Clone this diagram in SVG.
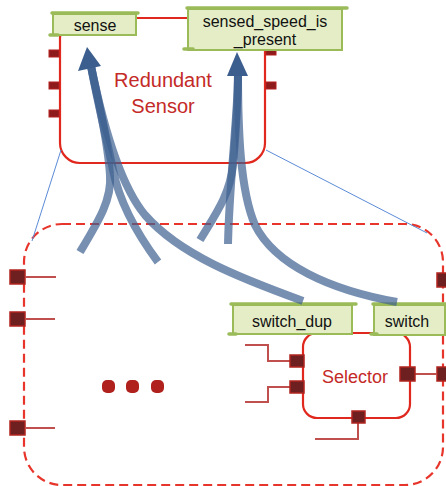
<svg xmlns="http://www.w3.org/2000/svg" width="446" height="486" viewBox="0 0 446 486">
  <style>
    .box { fill: #ffffff; stroke: #e0281e; stroke-width: 2.2; }
    .outer { fill: none; stroke: #e8352b; stroke-width: 2.2; stroke-dasharray: 9 5; }
    .title { font-family: "Liberation Sans", Arial, sans-serif; fill: #c42a27; text-anchor: middle; }
    .lbl { font-family: "Liberation Sans", Arial, sans-serif; font-size: 16px; fill: #111111; text-anchor: middle; }
    .tag { fill: #e4edc6; stroke: #9bbb59; stroke-width: 2; }
    .roll { stroke: #9bbb59; stroke-width: 3.5; stroke-linecap: round; fill: none; }
    .port { fill: #6e1f1f; stroke: #b0241f; stroke-width: 1.5; }
    .sport { fill: #8e1b1b; stroke: #b52020; stroke-width: 1; }
    .wire { fill: none; stroke: #c0504d; stroke-width: 2; }
    .guide { stroke: #5b8bd6; stroke-width: 1; fill: none; }
    .flow { fill: none; stroke: #3d6090; stroke-opacity: 0.7; stroke-width: 8; }
    .head { fill: #3c5e8e; }
  </style>

  <!-- outer composite (dashed) -->
  <g id="composite">
    <rect class="outer" x="24" y="224" width="419" height="261" rx="38"/>
    <rect class="port" x="10" y="270" width="15" height="14"/>
    <rect class="port" x="10" y="312" width="15" height="14"/>
    <rect class="port" x="10" y="421" width="15" height="14"/>
    <rect class="port" x="437" y="273" width="14" height="14"/>
    <rect class="port" x="437" y="367" width="14" height="14"/>
    <line class="wire" x1="25" y1="277" x2="56" y2="277"/>
    <line class="wire" x1="25" y1="319" x2="55" y2="319"/>
    <line class="wire" x1="25" y1="428" x2="55" y2="428"/>
    <!-- ellipsis -->
    <g fill="#b0201d">
      <rect x="102" y="380" width="13" height="13" rx="5"/>
      <rect x="126" y="380" width="13" height="13" rx="5"/>
      <rect x="151" y="380" width="13" height="13" rx="5"/>
    </g>
  </g>

  <!-- Redundant Sensor -->
  <g id="redundant-sensor">
    <rect class="box" x="60" y="18" width="205" height="145" rx="20"/>
    <rect class="sport" x="49" y="50" width="10" height="7"/>
    <rect class="sport" x="49" y="82" width="10" height="7"/>
    <rect class="sport" x="49" y="110" width="10" height="7"/>
    <rect class="sport" x="266" y="48" width="10" height="7"/>
    <rect class="sport" x="266" y="82" width="10" height="7"/>
    <text class="title" font-size="20" x="163" y="87">Redundant</text>
    <text class="title" font-size="20" x="163" y="113">Sensor</text>
  </g>

  <g id="sense">
    <rect class="tag" x="53" y="14" width="83" height="21"/>
    <line class="roll" x1="52" y1="13" x2="138" y2="13"/>
    <line class="roll" x1="50" y1="35" x2="58" y2="35"/>
    <text class="lbl" x="95" y="31">sense</text>
  </g>

  <g id="sensed-speed-is-present">
    <rect class="tag" x="188" y="9" width="154" height="41"/>
    <line class="roll" x1="187" y1="8" x2="347" y2="8"/>
    <line class="roll" x1="184" y1="49" x2="193" y2="49"/>
    <text class="lbl" x="265" y="27">sensed_speed_is</text>
    <text class="lbl" x="265" y="45">_present</text>
  </g>

  <!-- Selector -->
  <g id="selector">
    <rect class="box" x="303" y="333" width="107" height="85" rx="14"/>
    <polyline class="wire" points="245,345 268,345 268,361 290,361"/>
    <polyline class="wire" points="245,402 268,402 268,387 290,387"/>
    <polyline class="wire" points="315,439 358,439 358,423"/>
    <line class="wire" x1="415" y1="374" x2="437" y2="374"/>
    <rect class="port" x="290" y="355" width="14" height="12"/>
    <rect class="port" x="290" y="381" width="14" height="12"/>
    <rect class="port" x="352" y="411" width="13" height="12"/>
    <rect class="port" x="400" y="367" width="15" height="14"/>
    <text class="title" font-size="18" x="355" y="383">Selector</text>
  </g>

  <g id="switch-dup">
    <rect class="tag" x="233" y="305" width="119" height="29"/>
    <line class="roll" x1="231" y1="304" x2="356" y2="304"/>
    <line class="roll" x1="229" y1="334" x2="236" y2="334"/>
    <text class="lbl" font-size="17" x="292" y="327">switch_dup</text>
  </g>

  <g id="switch">
    <rect class="tag" x="374" y="305" width="71" height="30"/>
    <line class="roll" x1="373" y1="304" x2="446" y2="304"/>
    <line class="roll" x1="371" y1="334" x2="377" y2="334"/>
    <text class="lbl" font-size="17" x="407" y="327">switch</text>
  </g>

  <!-- connectors -->
  <g id="connectors">
    <line class="guide" x1="61" y1="150" x2="32" y2="241"/>
    <line class="guide" x1="266" y1="150" x2="427" y2="233"/>

    <path class="flow" d="M 80 252 C 98 222, 112 200, 110 175 C 108 140, 98 100, 91 66"/>
    <path class="flow" d="M 158 262 C 138 235, 120 205, 113 170 C 106 135, 97 100, 91 66"/>
    <path class="flow" d="M 303 301 C 240 278, 180 255, 145 215 C 120 185, 102 120, 91 66"/>
    <polygon class="head" points="87,47 78,71 101,66"/>

    <path class="flow" d="M 200 240 C 215 215, 230 195, 233 165 C 236 130, 238 100, 238 72"/>
    <path class="flow" d="M 228 244 C 229 200, 233 160, 235 130 C 237 105, 238 90, 238 72"/>
    <path class="flow" d="M 397 302 C 330 290, 275 265, 255 225 C 240 190, 238 130, 238 72"/>
    <polygon class="head" points="237,52 227,76 248,76"/>
  </g>
</svg>
